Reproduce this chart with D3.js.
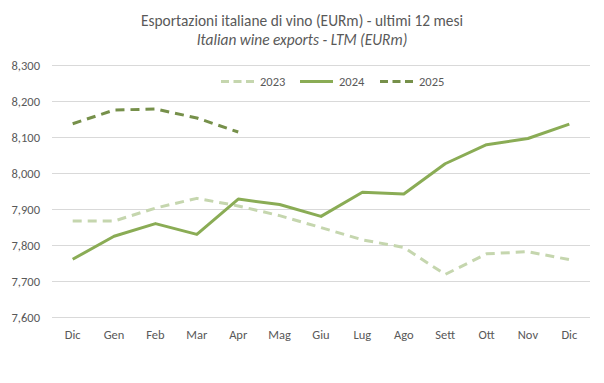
<!DOCTYPE html>
<html>
<head>
<meta charset="utf-8">
<script src="https://cdn.jsdelivr.net/npm/d3@7"></script>
<style>
  body { margin: 0; background: #fff; }
  svg { font-family: Calibri, Carlito, "Liberation Sans", Arial, sans-serif; }
</style>
</head>
<body>
<svg id="chart" width="604" height="383"></svg>
<script>
// months on the x axis
var months = ["Dic", "Gen", "Feb", "Mar", "Apr", "Mag", "Giu", "Lug", "Ago", "Sett", "Ott", "Nov", "Dic"]

// LTM exports, EUR m
var v2023 = [7867, 7867, 7903, 7930, 7909, 7882, 7849, 7815, 7794, 7719, 7776, 7782, 7760]
var v2024 = [7761, 7825, 7860, 7830, 7928, 7913, 7880, 7947, 7942, 8026, 8079, 8096, 8136]
var v2025 = [8137, 8175, 8178, 8153, 8114]

var yTicks = [7600, 7700, 7800, 7900, 8000, 8100, 8200, 8300]

var svg = d3.select("#chart")

var x = d3.scalePoint()
    .domain(d3.range(months.length))
    .range([52, 590])
    .padding(0.5)

var y = d3.scaleLinear()
    .domain([7600, 8300])
    .range([317.3, 65])

var fmt = d3.format(",")

// gridlines
svg.append("g")
    .selectAll("line")
    .data(yTicks)
    .join("line")
    .attr("x1", 52)
    .attr("x2", 590)
    .attr("y1", d => Math.round(y(d)) + 0.5)
    .attr("y2", d => Math.round(y(d)) + 0.5)
    .attr("stroke", "#d9d9d9")
    .attr("stroke-width", 1)

// y labels
svg.append("g")
    .selectAll("text")
    .data(yTicks)
    .join("text")
    .attr("x", 40)
    .attr("y", d => y(d) + 4.5)
    .attr("text-anchor", "end")
    .attr("fill", "#595959")
    .style("font-size", "12.5px")
    .text(d => fmt(d))

// x labels
svg.append("g")
    .selectAll("text")
    .data(months)
    .join("text")
    .attr("x", (d, i) => x(i))
    .attr("y", 339)
    .attr("text-anchor", "middle")
    .attr("fill", "#595959")
    .style("font-size", "12.5px")
    .text(d => d)

// titles
svg.append("text")
    .attr("x", 302)
    .attr("y", 25.5)
    .attr("text-anchor", "middle")
    .attr("fill", "#595959")
    .style("font-size", "15.4px")
    .text("Esportazioni italiane di vino (EURm) - ultimi 12 mesi")

svg.append("text")
    .attr("x", 302)
    .attr("y", 44.5)
    .attr("text-anchor", "middle")
    .attr("fill", "#595959")
    .style("font-size", "15.4px")
    .style("font-style", "italic")
    .text("Italian wine exports - LTM (EURm)")

var series = [
    {name: "2023", values: v2023, color: "#c5d6ae", dash: "9,6", lx: 221},
    {name: "2024", values: v2024, color: "#8aac55", dash: null, lx: 300},
    {name: "2025", values: v2025, color: "#76904a", dash: "9,6", lx: 380}
]

var line = d3.line()
    .x((d, i) => x(i))
    .y(d => y(d))

series.forEach(function(s) {
    svg.append("path")
        .attr("d", line(s.values))
        .attr("fill", "none")
        .attr("stroke", s.color)
        .attr("stroke-width", 3)
        .attr("stroke-linejoin", "round")
        .attr("stroke-dasharray", s.dash)

    // legend
    svg.append("line")
        .attr("x1", s.lx)
        .attr("x2", s.lx + 33)
        .attr("y1", 81.5)
        .attr("y2", 81.5)
        .attr("stroke", s.color)
        .attr("stroke-width", 3)
        .attr("stroke-dasharray", s.dash ? "8,4.5" : null)

    svg.append("text")
        .attr("x", s.lx + 39)
        .attr("y", 86)
        .attr("fill", "#595959")
        .style("font-size", "12.5px")
        .text(s.name)
})
</script>
</body>
</html>
